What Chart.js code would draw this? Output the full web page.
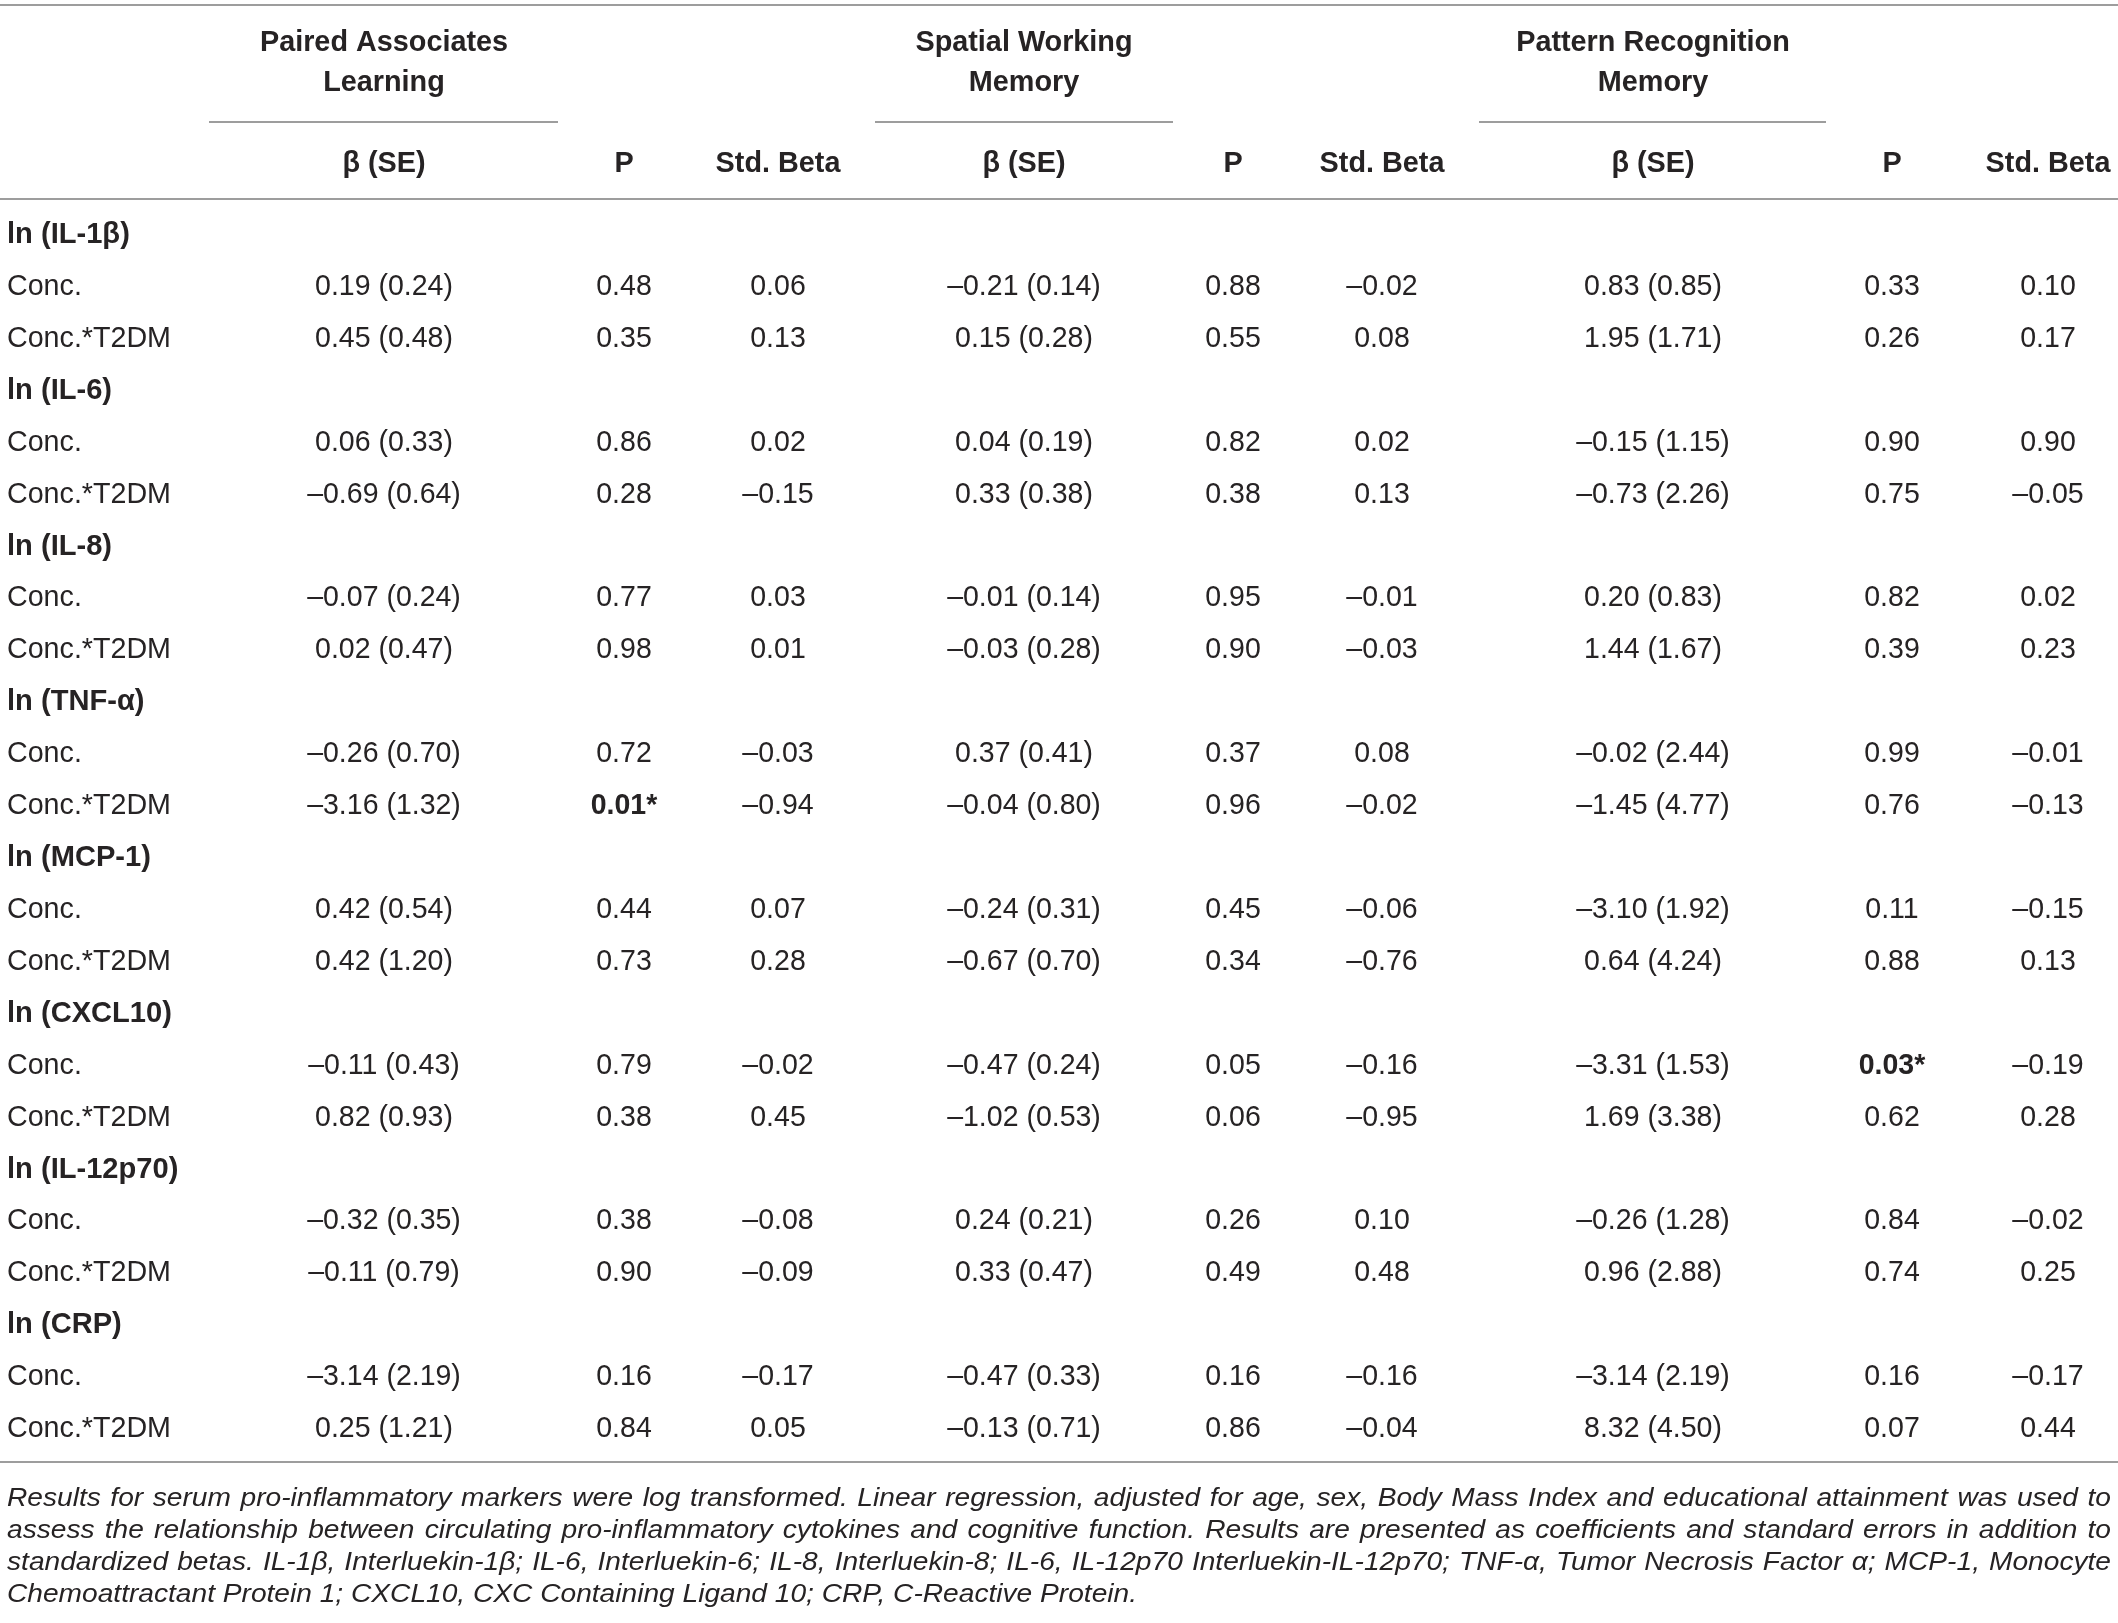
<!DOCTYPE html>
<html><head><meta charset="utf-8">
<script src="https://cdn.jsdelivr.net/npm/chart.js@4.4.1/dist/chart.umd.min.js"></script>
<style>html,body{margin:0;padding:0;background:#fff;}canvas{display:block;}</style>
</head><body>
<canvas id="c" width="2118" height="1623" style="width:2118px;height:1623px"></canvas>
<script>
// ---------- DATA ----------
const markers = ['IL-1β','IL-6','IL-8','TNF-α','MCP-1','CXCL10','IL-12p70','CRP'];
const rowTypes = ['Conc.','Conc.*T2DM'];
const groupTitles = [['Paired Associates','Learning'],['Spatial Working','Memory'],['Pattern Recognition','Memory']];
const colHeaders = ['β (SE)','P','Std. Beta'];

const palBeta = [0.19,0.45, 0.06,-0.69, -0.07,0.02, -0.26,-3.16, 0.42,0.42, -0.11,0.82, -0.32,-0.11, -3.14,0.25];
const palSE   = [0.24,0.48, 0.33,0.64, 0.24,0.47, 0.70,1.32, 0.54,1.20, 0.43,0.93, 0.35,0.79, 2.19,1.21];
const palP    = [0.48,0.35, 0.86,0.28, 0.77,0.98, 0.72,0.01, 0.44,0.73, 0.79,0.38, 0.38,0.90, 0.16,0.84];
const palStd  = [0.06,0.13, 0.02,-0.15, 0.03,0.01, -0.03,-0.94, 0.07,0.28, -0.02,0.45, -0.08,-0.09, -0.17,0.05];

const swmBeta = [-0.21,0.15, 0.04,0.33, -0.01,-0.03, 0.37,-0.04, -0.24,-0.67, -0.47,-1.02, 0.24,0.33, -0.47,-0.13];
const swmSE   = [0.14,0.28, 0.19,0.38, 0.14,0.28, 0.41,0.80, 0.31,0.70, 0.24,0.53, 0.21,0.47, 0.33,0.71];
const swmP    = [0.88,0.55, 0.82,0.38, 0.95,0.90, 0.37,0.96, 0.45,0.34, 0.05,0.06, 0.26,0.49, 0.16,0.86];
const swmStd  = [-0.02,0.08, 0.02,0.13, -0.01,-0.03, 0.08,-0.02, -0.06,-0.76, -0.16,-0.95, 0.10,0.48, -0.16,-0.04];

const prmBeta = [0.83,1.95, -0.15,-0.73, 0.20,1.44, -0.02,-1.45, -3.10,0.64, -3.31,1.69, -0.26,0.96, -3.14,8.32];
const prmSE   = [0.85,1.71, 1.15,2.26, 0.83,1.67, 2.44,4.77, 1.92,4.24, 1.53,3.38, 1.28,2.88, 2.19,4.50];
const prmP    = [0.33,0.26, 0.90,0.75, 0.82,0.39, 0.99,0.76, 0.11,0.88, 0.03,0.62, 0.84,0.74, 0.16,0.07];
const prmStd  = [0.10,0.17, 0.90,-0.05, 0.02,0.23, -0.01,-0.13, -0.15,0.13, -0.19,0.28, -0.02,0.25, -0.17,0.44];

const footnoteLines = [
 'Results for serum pro-inflammatory markers were log transformed. Linear regression, adjusted for age, sex, Body Mass Index and educational attainment was used to',
 'assess the relationship between circulating pro-inflammatory cytokines and cognitive function. Results are presented as coefficients and standard errors in addition to',
 'standardized betas. IL-1β, Interluekin-1β; IL-6, Interluekin-6; IL-8, Interluekin-8; IL-6, IL-12p70 Interluekin-IL-12p70; TNF-α, Tumor Necrosis Factor α; MCP-1, Monocyte',
 'Chemoattractant Protein 1; CXCL10, CXC Containing Ligand 10; CRP, C-Reactive Protein.'
];

// ---------- LAYOUT / STYLE (not data) ----------
const FONT = '"Liberation Sans","Arial","Helvetica",sans-serif';
const BODY_SIZE = 30, HEAD_SIZE = 30, NOTE_SIZE = 26;
const SX_NUM = 0.95, SX_LABEL = 0.955, SX_BOLD_LABEL = 0.97, SX_HEAD = 0.96;
const TEXT_COLOR = '#262324', LINE_COLOR = '#9d9d9d';
const labelX = 7;
const groupCenters = [384, 1024, 1653];
const underlineSpans = [[209,558],[875,1173],[1479,1826]];
const colX = [384, 624, 778, 1024, 1233, 1382, 1653, 1892, 2048];
const NOTE_X0 = 7, NOTE_X1 = 2111, NOTE_LAST_END = 1137;
// vertical positions in row units (row 0 = first marker row); 1 row = 51.92 px
const ROW_PX = 51.92;
const Y_TOP_LINE = -4.372, Y_TITLE1 = -3.66, Y_TITLE2 = -2.88, Y_UNDERLINE = -2.134,
      Y_COLHEAD = -1.32, Y_HEAD_LINE = -0.651, Y_BOTTOM_LINE = 23.675;
const Y_NOTES = [24.39, 25.01, 25.63, 26.24];
const TEXT_SHIFT = 0.045; // row units
const Y_MIN = -4.476, Y_MAX = Y_MIN + 1623/ROW_PX;

// ---------- build ----------
const fmt = v => (v < 0 ? '\u2013' : '') + Math.abs(v).toFixed(2);
const dataRow = k => 3*Math.floor(k/2) + 1 + (k%2);
const pStr = p => p.toFixed(2)+(p<0.05?'*':'');
const cols = [
  {vals: palBeta.map((b,i)=>fmt(b)+' ('+palSE[i].toFixed(2)+')')},
  {vals: palP.map(pStr), bold: palP.map(p=>p<0.05)},
  {vals: palStd.map(fmt)},
  {vals: swmBeta.map((b,i)=>fmt(b)+' ('+swmSE[i].toFixed(2)+')')},
  {vals: swmP.map(pStr), bold: swmP.map(p=>p<0.05)},
  {vals: swmStd.map(fmt)},
  {vals: prmBeta.map((b,i)=>fmt(b)+' ('+prmSE[i].toFixed(2)+')')},
  {vals: prmP.map(pStr), bold: prmP.map(p=>p<0.05)},
  {vals: prmStd.map(fmt)}
];
const datasets = cols.map((c,ci)=>({
  label: 'col'+ci,
  data: c.vals.map((t,k)=>({x: colX[ci], y: dataRow(k)})),
  pointRadius: 0, showLine: false
}));

const tablePlugin = {
  id: 'tablePlugin',
  beforeDraw(chart){
    const ctx = chart.ctx;
    ctx.save(); ctx.fillStyle = '#fff'; ctx.fillRect(0,0,chart.width,chart.height); ctx.restore();
  },
  afterDatasetsDraw(chart){
    const ctx = chart.ctx, xs = chart.scales.x, ys = chart.scales.y;
    const X = v => xs.getPixelForValue(v), Y = v => ys.getPixelForValue(v);
    const txt = (s, x, y, font, sx, align) => {
      ctx.save();
      ctx.font = font; ctx.textAlign = align; ctx.textBaseline = 'middle';
      ctx.fillStyle = TEXT_COLOR;
      ctx.translate(x, y); ctx.scale(sx, 1);
      ctx.fillText(s, 0, 0);
      ctx.restore();
    };
    const hline = (x0,x1,yv,w) => {
      ctx.save();
      ctx.beginPath(); ctx.strokeStyle = LINE_COLOR; ctx.lineWidth = w||2;
      const y = Math.round(Y(yv)); ctx.moveTo(X(x0),y); ctx.lineTo(X(x1),y); ctx.stroke();
      ctx.restore();
    };
    const bodyF = BODY_SIZE+'px '+FONT, boldF = 'bold '+BODY_SIZE+'px '+FONT, headF = 'bold '+HEAD_SIZE+'px '+FONT;
    // rules
    hline(0,2118,Y_TOP_LINE,2);
    underlineSpans.forEach(s=>hline(s[0],s[1],Y_UNDERLINE,2));
    hline(0,2118,Y_HEAD_LINE,2);
    hline(0,2118,Y_BOTTOM_LINE,2);
    // group titles
    groupTitles.forEach((t,g)=>{
      txt(t[0], X(groupCenters[g]), Y(Y_TITLE1), headF, SX_HEAD, 'center');
      txt(t[1], X(groupCenters[g]), Y(Y_TITLE2), headF, SX_HEAD, 'center');
    });
    // column headers
    for (let g=0; g<3; g++) for (let h=0; h<3; h++)
      txt(colHeaders[h], X(colX[g*3+h]), Y(Y_COLHEAD), headF, SX_HEAD, 'center');
    // row labels
    markers.forEach((m,mi)=>{
      txt('ln ('+m+')', X(labelX), Y(3*mi+TEXT_SHIFT), boldF, SX_BOLD_LABEL, 'left');
      rowTypes.forEach((r,ri)=> txt(r, X(labelX), Y(3*mi+1+ri+TEXT_SHIFT), bodyF, SX_LABEL, 'left'));
    });
    // cells, positioned from the dataset elements
    chart.data.datasets.forEach((ds,di)=>{
      const meta = chart.getDatasetMeta(di);
      meta.data.forEach((el,k)=>{
        const bold = cols[di].bold && cols[di].bold[k];
        txt(cols[di].vals[k], el.x, el.y + TEXT_SHIFT*ROW_PX, bold?boldF:bodyF, SX_NUM, 'center');
      });
    });
    // footnote (italic, justified)
    const noteF = 'italic '+NOTE_SIZE+'px '+FONT;
    ctx.save(); ctx.font = noteF;
    const last = footnoteLines[footnoteLines.length-1];
    const sxNote = (X(NOTE_LAST_END)-X(NOTE_X0)) / ctx.measureText(last).width;
    const x0 = X(NOTE_X0), x1 = X(NOTE_X1);
    footnoteLines.forEach((line,li)=>{
      const y = Y(Y_NOTES[li]);
      if (li === footnoteLines.length-1) { txt(line, x0, y, noteF, sxNote, 'left'); return; }
      const words = line.split(' ');
      const wsz = words.map(w=>ctx.measureText(w).width*sxNote);
      const total = wsz.reduce((s,w)=>s+w,0);
      const gap = (x1-x0-total)/(words.length-1);
      let x = x0;
      words.forEach((w,wi)=>{ txt(w, x, y, noteF, sxNote, 'left'); x += wsz[wi] + gap; });
    });
    ctx.restore();
  }
};

new Chart(document.getElementById('c'), {
  type: 'scatter',
  data: { datasets },
  options: {
    responsive: false, animation: false, devicePixelRatio: 1,
    layout: { padding: 0 },
    plugins: { legend: {display:false}, tooltip: {enabled:false} },
    scales: {
      x: { type:'linear', min:0, max:2118, display:false },
      y: { type:'linear', min:Y_MIN, max:Y_MAX, reverse:true, display:false }
    }
  },
  plugins: [tablePlugin]
});
</script>
</body></html>
